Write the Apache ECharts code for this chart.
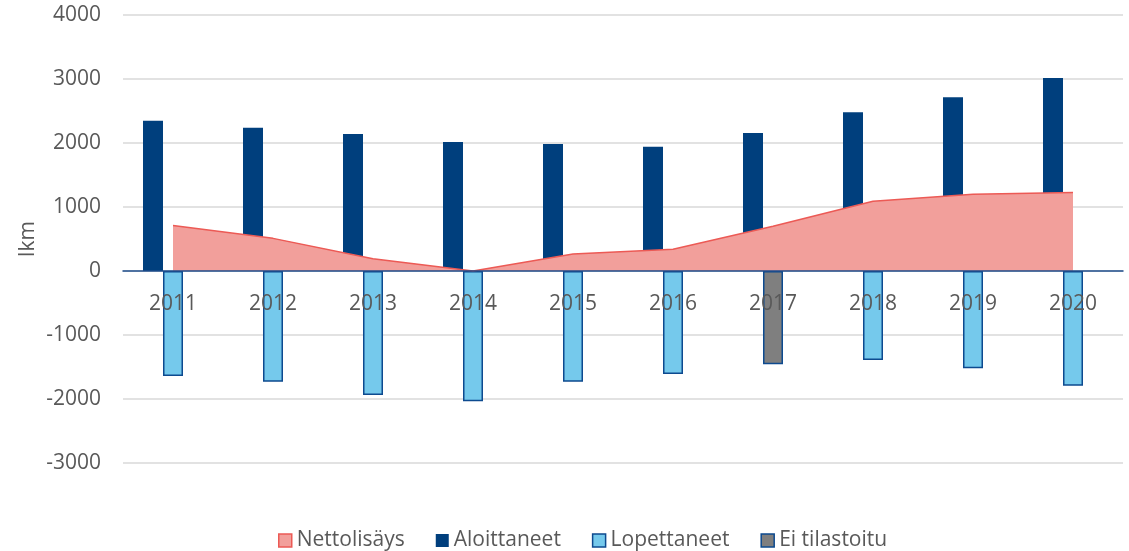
<!DOCTYPE html>
<html>
<head>
<meta charset="utf-8">
<script src="https://cdn.jsdelivr.net/npm/echarts@6/dist/echarts.min.js"></script>
<style>
  html, body { margin: 0; padding: 0; background: #fff; }
  #chart { width: 1129px; height: 551px; }
</style>
</head>
<body>
<div id="chart"></div>
<script>
// vuodet
const years = ["2011", "2012", "2013", "2014", "2015", "2016", "2017", "2018", "2019", "2020"];
// nettolisäys (alue)
const nettolisays = [710, 510, 190, 0, 265, 340, 700, 1090, 1200, 1225];
// aloittaneet
const aloittaneet = [2348, 2240, 2140, 2015, 1985, 1940, 2156, 2480, 2714, 3016];
// lopettaneet (2017 puuttuu)
const lopettaneet = [-1640, -1730, -1938, -2036, -1730, -1610, null, -1390, -1520, -1792];
// ei tilastoitu
const eiTilastoitu = [null, null, null, null, null, null, -1458, null, null, null];

const textColor = "#595959";
const font = "'Open Sans', 'Noto Sans', sans-serif";

const chart = echarts.init(document.getElementById("chart"));

const option = {
    animation: false,
    grid: {
        left: 123,
        right: 6,
        top: 15,
        bottom: 88,
    },
    legend: {
        top: 525,
        left: 273,
        icon: "rect",
        itemWidth: 13,
        itemHeight: 13,
        itemGap: 31,
        textStyle: { color: textColor, fontSize: 21, fontFamily: font },
        data: [
            { name: "Nettolisäys", itemStyle: { color: "#f29f9b", borderColor: "#ec5a55", borderWidth: 1.5 } },
            { name: "Aloittaneet", itemStyle: { color: "#003f7d", borderWidth: 0 } },
            { name: "Lopettaneet", itemStyle: { color: "#75c9ec", borderColor: "#0d4a8f", borderWidth: 1.5 } },
            { name: "Ei tilastoitu", itemStyle: { color: "#7f7f7f", borderColor: "#0d4a8f", borderWidth: 1.5 } },
        ],
    },
    xAxis: {
        type: "category",
        data: years,
        z: 10,
        // akseli nollatasolle: alareunasta (-3000) ylös 3 * 64 px
        offset: -192,
        axisLine: { onZero: false, lineStyle: { color: "#1f4e8c", width: 1.5 } },
        axisTick: { show: false },
        axisLabel: { color: textColor, fontSize: 21, fontFamily: font, margin: 23 },
    },
    yAxis: {
        type: "value",
        min: -3000,
        max: 4000,
        interval: 1000,
        name: "lkm",
        nameLocation: "middle",
        nameGap: 84,
        nameMoveOverlap: false,
        nameTextStyle: { color: textColor, fontSize: 21, fontFamily: font },
        axisLine: { show: false },
        axisTick: { show: false },
        axisLabel: { color: textColor, fontSize: 21, fontFamily: font, margin: 22, formatter: (v) => String(v) },
        splitLine: { lineStyle: { color: "#d9d9d9", width: 1.5 } },
    },
    series: [
        {
            name: "Nettolisäys",
            type: "line",
            data: nettolisays,
            symbol: "none",
            lineStyle: { color: "#ec5a55", width: 1.5 },
            itemStyle: { color: "#f29f9b" },
            areaStyle: { color: "#f29f9b", opacity: 1 },
        },
        {
            name: "Aloittaneet",
            type: "bar",
            data: aloittaneet,
            barWidth: 20,
            barGap: "0%",
            itemStyle: { color: "#003f7d" },
        },
        {
            name: "Lopettaneet",
            type: "bar",
            stack: "neg",
            data: lopettaneet,
            barWidth: 20,
            barGap: "0%",
            itemStyle: { color: "#75c9ec", borderColor: "#0d4a8f", borderWidth: 1.5 },
        },
        {
            name: "Ei tilastoitu",
            type: "bar",
            stack: "neg",
            data: eiTilastoitu,
            barWidth: 20,
            barGap: "0%",
            itemStyle: { color: "#7f7f7f", borderColor: "#0d4a8f", borderWidth: 1.5 },
        },
        {
            // tyhjä sarake, jotta palkit asettuvat kuten alkuperäisessä
            name: "tyhja",
            type: "bar",
            data: years.map(() => null),
            barWidth: 20,
            barGap: "0%",
        },
    ],
};

chart.setOption(option);
</script>
</body>
</html>
